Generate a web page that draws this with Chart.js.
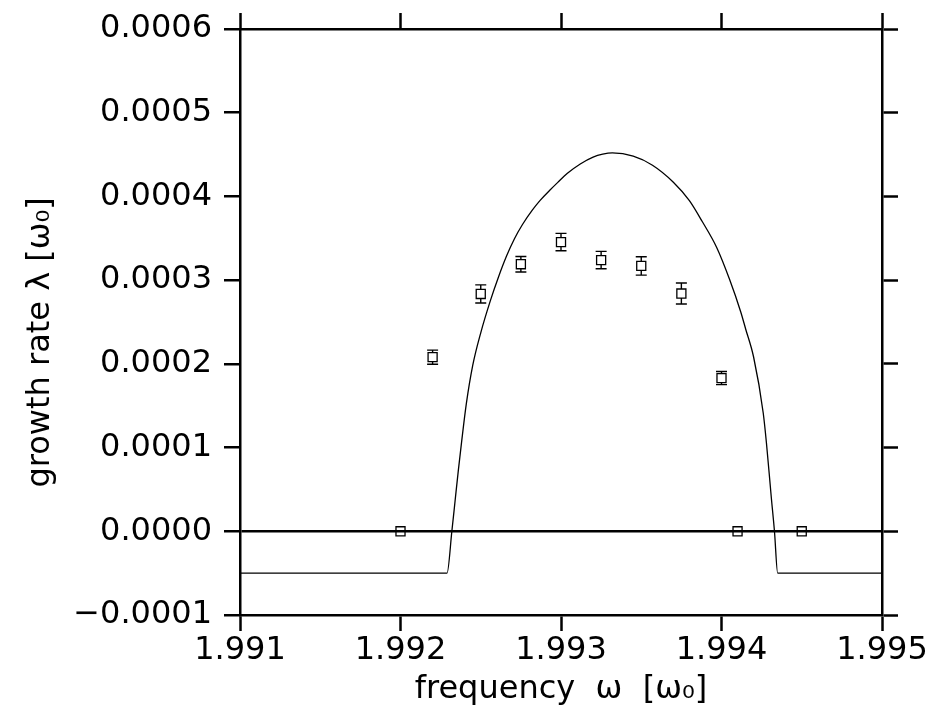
<!DOCTYPE html>
<html>
<head>
<meta charset="utf-8">
<script src="https://cdn.jsdelivr.net/npm/chart.js@4.4.0/dist/chart.umd.min.js"></script>
<style>
html, body { margin: 0; padding: 0; background: #fff; }
#wrap { width: 927px; height: 721px; }
</style>
</head>
<body>
<div id="wrap"><canvas id="ShowChart" width="927" height="721"></canvas></div>
<script>
// theory curve
var curve_Freq = [1.991, 1.99229, 1.99232, 1.99234, 1.99236, 1.99238, 1.99241, 1.99245, 1.9925, 1.99256,
  1.99261, 1.99266, 1.99271, 1.99276, 1.99282, 1.99287, 1.99293, 1.99298, 1.99304, 1.99312,
  1.9932, 1.99326, 1.99332, 1.99345, 1.99357, 1.9937, 1.9938, 1.99388, 1.99397, 1.99405,
  1.99412, 1.99415, 1.9942, 1.99426, 1.99428, 1.99431, 1.99433, 1.99435, 1.995]
var curve_Rate = [-0.00005, -0.00005, 0, 0.0000362, 0.0000722, 0.0001056, 0.0001521, 0.0001981, 0.0002371, 0.0002755,
  0.0003035, 0.0003285, 0.0003495, 0.0003665, 0.0003833, 0.0003953, 0.0004073, 0.0004168, 0.0004276, 0.0004388,
  0.000447, 0.0004505, 0.000452, 0.0004481, 0.0004373, 0.000417, 0.000395, 0.00037, 0.000339, 0.000301,
  0.000262, 0.000242, 0.0002082, 0.0001413, 0.0001055, 0.000041, 0, -0.00005, -0.00005]

// measured points with error bars
var point_Freq = [1.992, 1.9922, 1.9925, 1.99275, 1.993, 1.99325, 1.9935, 1.99375, 1.994, 1.9941, 1.9945]
var point_Rate = [0, 0.000208, 0.0002835, 0.000319, 0.0003455, 0.000324, 0.000317, 0.000284, 0.000183, 0, 0]
var point_Err = [0, 0.0000084, 0.0000108, 0.0000093, 0.0000104, 0.0000104, 0.000011, 0.0000125, 0.0000078, 0, 0]

var x_Tick_Labels = ["1.991", "1.992", "1.993", "1.994", "1.995"]
var y_Tick_Labels = ["\u22120.0001", "0.0000", "0.0001", "0.0002", "0.0003", "0.0004", "0.0005", "0.0006"]

var Font_Name = "'DejaVu Sans', sans-serif"
var Half_Box = 4.5, Cap = 5.5

var curve_Data = [], point_Data = []
for (var i = 0; i < curve_Freq.length; i++){curve_Data.push({x: curve_Freq[i], y: curve_Rate[i]})}
for (var i = 0; i < point_Freq.length; i++){point_Data.push({x: point_Freq[i], y: point_Rate[i]})}

var Error_Bar_Plugin = {
  id: "errorbars",
  afterDatasetsDraw: function(chart){
    var meta = chart.getDatasetMeta(1)
    var yScale = chart.scales.y
    var c = chart.ctx
    c.save()
    c.strokeStyle = "#000"
    c.lineWidth = 1.4
    for (var i = 0; i < point_Err.length; i++){
      if (point_Err[i] <= 0) continue
      var px = meta.data[i].x, py = meta.data[i].y
      var top = yScale.getPixelForValue(point_Rate[i] + point_Err[i])
      var bot = yScale.getPixelForValue(point_Rate[i] - point_Err[i])
      c.beginPath()
      c.moveTo(px, top); c.lineTo(px, py - Half_Box)
      c.moveTo(px, py + Half_Box); c.lineTo(px, bot)
      c.moveTo(px - Cap, top); c.lineTo(px + Cap, top)
      c.moveTo(px - Cap, bot); c.lineTo(px + Cap, bot)
      c.stroke()
    }
    c.restore()
  }
}

function No_Padding(scale){
  scale.paddingTop = 0
  scale.paddingBottom = 0
  scale.paddingLeft = 0
  scale.paddingRight = 0
}

function Edge_Axis(position, size){
  return {
    type: "linear",
    position: position,
    display: true,
    ticks: {display: false},
    grid: {drawOnChartArea: false, drawTicks: true, tickLength: 16, tickWidth: 2.5, tickColor: "#000"},
    border: {display: true, color: "#000", width: 2.5},
    afterFit: function(scale){
      if (position == "top") scale.height = size
      else scale.width = size
      No_Padding(scale)
    }
  }
}

var top_Axis = Edge_Axis("top", 29)
top_Axis.min = 1.991; top_Axis.max = 1.995; top_Axis.ticks.stepSize = 0.001
var right_Axis = Edge_Axis("right", 45)
right_Axis.min = -0.0001; right_Axis.max = 0.0006; right_Axis.ticks.stepSize = 0.0001

var Show_Chart = {
  type: "scatter",
  data: {
    datasets: [
      {
        label: "theory",
        data: curve_Data,
        showLine: true,
        borderColor: "#000",
        borderWidth: 1.3,
        pointRadius: 0,
        cubicInterpolationMode: "monotone",
        fill: false
      },
      {
        label: "simulation",
        data: point_Data,
        showLine: false,
        pointStyle: "rect",
        pointRadius: 6.4,
        borderColor: "#000",
        borderWidth: 1.3,
        backgroundColor: "rgba(0,0,0,0)"
      }
    ]
  },
  options: {
    responsive: false,
    animation: false,
    layout: {padding: 0},
    plugins: {
      legend: {display: false},
      tooltip: {enabled: false}
    },
    scales: {
      x: {
        type: "linear",
        position: "bottom",
        min: 1.991,
        max: 1.995,
        ticks: {
          stepSize: 0.001,
          color: "#000",
          padding: 0,
          maxRotation: 0,
          font: {family: Font_Name, size: 32},
          callback: function(v, i){ return x_Tick_Labels[i] }
        },
        grid: {drawOnChartArea: false, drawTicks: true, tickLength: 16, tickWidth: 2.5, tickColor: "#000"},
        border: {display: true, color: "#000", width: 2.5},
        title: {
          display: true,
          text: "frequency  \u03c9  [\u03c9\u2080]",
          color: "#000",
          font: {family: Font_Name, size: 32},
          padding: {top: 0, bottom: 12}
        },
        afterFit: function(scale){ scale.height = 106; No_Padding(scale) }
      },
      y: {
        type: "linear",
        position: "left",
        min: -0.0001,
        max: 0.0006,
        ticks: {
          stepSize: 0.0001,
          color: "#000",
          padding: 12,
          font: {family: Font_Name, size: 32},
          callback: function(v, i){ return y_Tick_Labels[i] }
        },
        grid: {
          drawOnChartArea: true,
          drawTicks: true,
          tickLength: 16,
          tickWidth: 2.5,
          tickColor: "#000",
          lineWidth: 2.5,
          color: function(ctx){ return (ctx.tick && Math.abs(ctx.tick.value) < 1e-12) ? "#000" : "rgba(0,0,0,0)" }
        },
        border: {display: true, color: "#000", width: 2.5},
        title: {
          display: true,
          text: "growth rate \u03bb [\u03c9\u2080]    ",
          color: "#000",
          font: {family: Font_Name, size: 32},
          padding: {top: 21, bottom: 0}
        },
        afterFit: function(scale){ scale.width = 240; No_Padding(scale) }
      },
      x2: top_Axis,
      y2: right_Axis
    }
  },
  plugins: [Error_Bar_Plugin]
}

var ctx = document.getElementById("ShowChart").getContext("2d")
var ChartObject = new Chart(ctx, Show_Chart)
</script>
</body>
</html>
